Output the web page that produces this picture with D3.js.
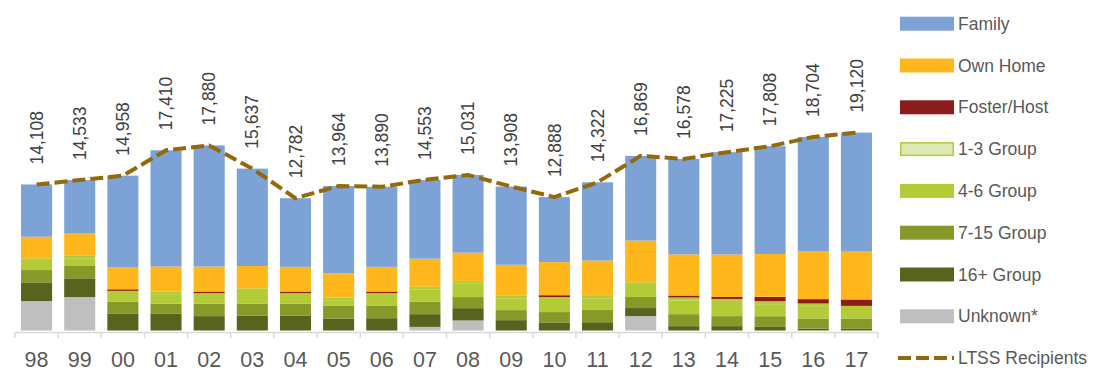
<!DOCTYPE html>
<html>
<head>
<meta charset="utf-8">
<script src="https://cdn.jsdelivr.net/npm/d3@7"></script>
<style>
  html, body { margin: 0; padding: 0; background: #fff; }
  svg { display: block; }
</style>
</head>
<body>
<svg id="chart" width="1112" height="382"></svg>
<script>
const years = ["98","99","00","01","02","03","04","05","06","07","08","09","10","11","12","13","14","15","16","17"];

const unknown   = [2840,3230,0,0,0,0,0,0,0,350,970,0,0,0,1390,0,0,0,0,0];
const group16   = [1810,1810,1610,1610,1390,1420,1420,1160,1190,1230,1190,1000,780,800,780,420,420,350,190,160];
const group7_15 = [1190,1190,1160,970,1190,1160,1160,1220,1190,1190,1070,970,1000,1190,1070,1160,970,1030,970,1000];
const group4_6  = [1130,740,1060,930,1030,1490,1030,550,1230,1200,1290,1130,1450,1100,1420,1310,1360,1160,1190,1220];
const group1_3  = [0,250,0,250,0,0,0,250,0,250,250,250,0,250,0,300,300,290,260,0];
const foster    = [0,0,150,0,150,0,150,0,150,0,0,0,180,0,0,190,190,420,420,620];
const ownHome   = [2090,2200,2160,2420,2420,2160,2390,2360,2390,2720,2750,3000,3200,3420,4030,3970,4100,4140,4590,4620];
const family    = [5050,5110,8820,11230,11700,9410,6630,8420,7740,7610,7510,7560,6280,7560,8180,9230,9890,10420,11080,11500];
const ltss      = [14108,14533,14958,17410,17880,15637,12782,13964,13890,14553,15031,13908,12888,14322,16869,16578,17225,17808,18704,19120];

const seriesKeys = ["Unknown*","16+ Group","7-15 Group","4-6 Group","1-3 Group","Foster/Host","Own Home","Family"];
const seriesVals = [unknown, group16, group7_15, group4_6, group1_3, foster, ownHome, family];
const colors = {
  "Family": "#7CA2D6",
  "Own Home": "#FFB71C",
  "Foster/Host": "#8E1B1C",
  "1-3 Group": "#DDE9B2",
  "4-6 Group": "#B3CB36",
  "7-15 Group": "#88992A",
  "16+ Group": "#57641D",
  "Unknown*": "#BFBFBF"
};
const legendOrder = ["Family","Own Home","Foster/Host","1-3 Group","4-6 Group","7-15 Group","16+ Group","Unknown*"];
const lineColor = "#94680B";
const textColor = "#595959";

const rows = years.map((y, i) => {
  const r = { year: y, total: ltss[i] };
  seriesKeys.forEach((k, j) => r[k] = seriesVals[j][i]);
  return r;
});

const svg = d3.select("#chart");

const x = d3.scaleBand().domain(years).range([15, 878]).paddingInner(0.28).paddingOuter(0.14);
const y = d3.scaleLinear().domain([0, 20000]).range([330.5, 123.5]);

const stacked = d3.stack().keys(seriesKeys)(rows);

const gBars = svg.append("g");
stacked.forEach(s => {
  const key = s.key;
  const g = gBars.append("g");
  g.selectAll("rect").data(s.filter(d => d[1] - d[0] > 0)).join("rect")
    .attr("x", d => x(d.data.year) + (key === "1-3 Group" ? 0.75 : 0))
    .attr("width", x.bandwidth() - (key === "1-3 Group" ? 1.5 : 0))
    .attr("y", d => y(d[1]) + (key === "1-3 Group" ? 0.75 : 0))
    .attr("height", d => Math.max(0, y(d[0]) - y(d[1]) - (key === "1-3 Group" ? 1.5 : 0)))
    .attr("fill", colors[key])
    .attr("stroke", key === "1-3 Group" ? colors["4-6 Group"] : "none")
    .attr("stroke-width", key === "1-3 Group" ? 1.5 : 0);
});

// axis
const axisY = 332.5;
const step = x.step();
const gap = step - x.bandwidth();
svg.append("line")
  .attr("x1", 15).attr("x2", 878).attr("y1", axisY).attr("y2", axisY)
  .attr("stroke", "#D9D9D9").attr("stroke-width", 1.5);
const boundaries = years.map(d => x(d) - gap / 2).concat([x(years[years.length - 1]) + x.bandwidth() + gap / 2]);
svg.append("g").selectAll("line").data(boundaries).join("line")
  .attr("x1", d => d).attr("x2", d => d)
  .attr("y1", axisY).attr("y2", axisY + 5.5)
  .attr("stroke", "#D9D9D9").attr("stroke-width", 1.5);

const gAxis = svg.append("g")
  .attr("transform", `translate(0,${axisY})`)
  .call(d3.axisBottom(x).tickSize(0).tickPadding(19));
gAxis.select(".domain").remove();
gAxis.selectAll("text")
  .attr("fill", textColor)
  .style("font-family", "'Liberation Sans', Arial, sans-serif")
  .style("font-size", "21.5px");

// LTSS line
const line = d3.line()
  .x((d, i) => x(years[i]) + x.bandwidth() / 2)
  .y(d => y(d));
svg.append("path")
  .datum(ltss)
  .attr("d", line)
  .attr("fill", "none")
  .attr("stroke", lineColor)
  .attr("stroke-width", 4)
  .attr("stroke-dasharray", "13,5");

// value labels
svg.append("g").selectAll("text").data(ltss).join("text")
  .attr("transform", (d, i) => `translate(${x(years[i]) + x.bandwidth() / 2},${y(d) - 20}) rotate(-90)`)
  .attr("dy", "0.35em")
  .attr("text-anchor", "start")
  .attr("fill", "#404040")
  .style("font-family", "'Liberation Sans Narrow', 'Liberation Sans', Arial, sans-serif")
  .style("font-size", "17.5px")
  .text(d => d3.format(",")(d));

// legend
const legX = 900, legY0 = 23.7, legStep = 41.8;
const legend = svg.append("g");
legendOrder.forEach((k, i) => {
  const cy = legY0 + i * legStep;
  legend.append("rect")
    .attr("x", legX + (k === "1-3 Group" ? 0.75 : 0))
    .attr("y", cy - 7 + (k === "1-3 Group" ? 0.75 : 0))
    .attr("width", 54 - (k === "1-3 Group" ? 1.5 : 0))
    .attr("height", 14 - (k === "1-3 Group" ? 1.5 : 0))
    .attr("fill", colors[k])
    .attr("stroke", k === "1-3 Group" ? colors["4-6 Group"] : "none")
    .attr("stroke-width", k === "1-3 Group" ? 1.5 : 0);
  legend.append("text")
    .attr("x", 958).attr("y", cy).attr("dy", "0.35em")
    .attr("fill", textColor)
    .style("font-family", "'Liberation Sans', Arial, sans-serif")
    .style("font-size", "17.5px")
    .text(k);
});
const lcy = legY0 + legendOrder.length * legStep;
legend.append("line")
  .attr("x1", 898).attr("x2", 954).attr("y1", lcy).attr("y2", lcy)
  .attr("stroke", lineColor).attr("stroke-width", 4)
  .attr("stroke-dasharray", "13,5");
legend.append("text")
  .attr("x", 958).attr("y", lcy).attr("dy", "0.35em")
  .attr("fill", textColor)
  .style("font-family", "'Liberation Sans', Arial, sans-serif")
  .style("font-size", "17.5px")
  .text("LTSS Recipients");
</script>
</body>
</html>
